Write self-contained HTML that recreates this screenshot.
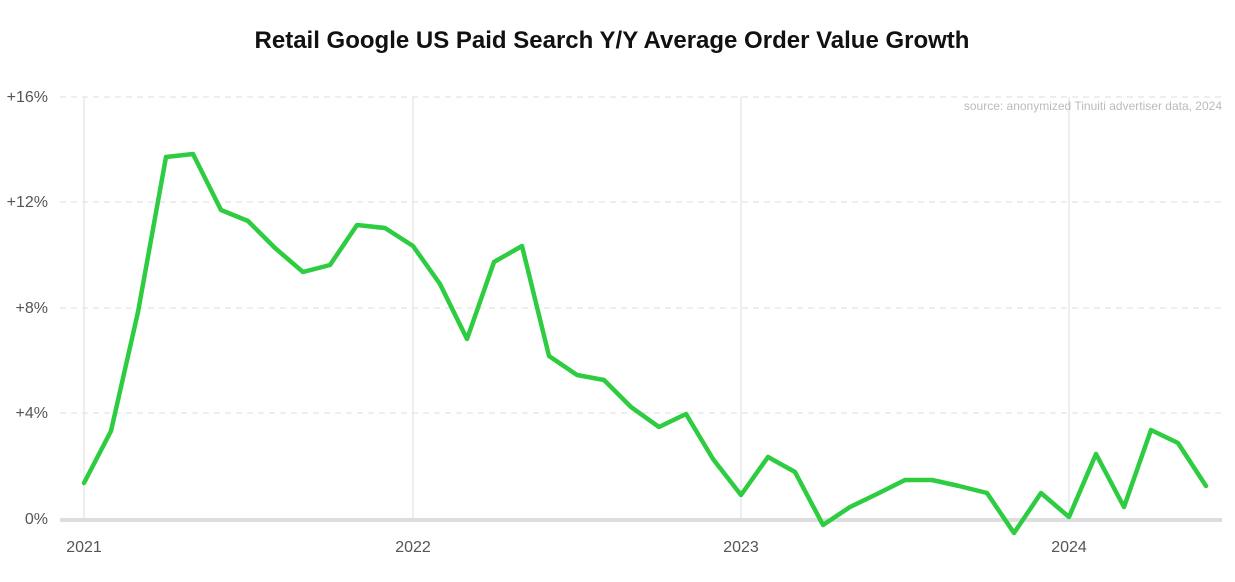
<!DOCTYPE html>
<html><head><meta charset="utf-8"><style>
body{margin:0;background:#fff;width:1235px;height:577px;overflow:hidden;font-family:"Liberation Sans",sans-serif;}
</style></head><body>
<svg width="1235" height="577" xmlns="http://www.w3.org/2000/svg">
<text x="612" y="48" text-anchor="middle" font-family="Liberation Sans, sans-serif" font-weight="bold" font-size="24" fill="#111">Retail Google US Paid Search Y/Y Average Order Value Growth</text>
<g stroke="#ddd" stroke-width="1">
<line x1="84" y1="97" x2="84" y2="519"/><line x1="413" y1="97" x2="413" y2="519"/>
<line x1="741" y1="97" x2="741" y2="519"/><line x1="1069" y1="97" x2="1069" y2="519"/>
</g>
<g stroke="#ddd" stroke-width="1" stroke-dasharray="6,5">
<line x1="60" y1="97" x2="1222" y2="97"/><line x1="60" y1="202" x2="1222" y2="202"/>
<line x1="60" y1="308" x2="1222" y2="308"/><line x1="60" y1="413" x2="1222" y2="413"/>
</g>
<line x1="60" y1="520" x2="1222" y2="520" stroke="#ddd" stroke-width="4"/>
<g font-size="16" fill="#555" text-anchor="end">
<text x="48" y="102">+16%</text><text x="48" y="207">+12%</text><text x="48" y="313">+8%</text><text x="48" y="418">+4%</text><text x="48" y="524">0%</text>
</g>
<g font-size="16" fill="#555" text-anchor="middle">
<text x="84" y="552">2021</text><text x="413" y="552">2022</text><text x="741" y="552">2023</text><text x="1069" y="552">2024</text>
</g>
<text x="1222" y="110" text-anchor="end" font-size="12" fill="#bbb">source: anonymized Tinuiti advertiser data, 2024</text>
<polyline fill="none" stroke="#2ecc40" stroke-width="4.5" stroke-linejoin="round" stroke-linecap="round" points="84,483 111,431 138,312 166,157 193,154 221,210 248,221 275,248 303,272 330,265 357,225 385,228 413,246 440,284 467,339 494,262 522,246 549,356 577,375 604,380 631,407 659,427 686,414 713,459 741,495 768,457 795,472 823,525 850,507 877,494 905,480 932,480 959,486 987,493 1014,533 1041,493 1069,517 1096,454 1124,507 1151,430 1178,443 1206,486"/>
</svg>
</body></html>
